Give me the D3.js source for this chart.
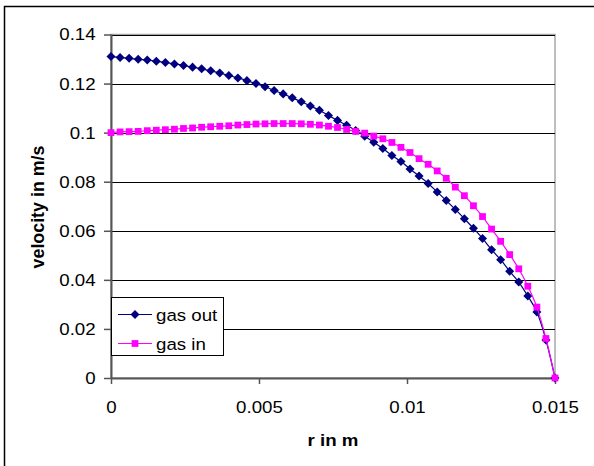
<html>
    <head>
        <meta charset="utf-8">
        <title>velocity profile</title>
        <script src="https://d3js.org/d3.v7.min.js"></script>
        <style>
            body { margin: 0; background: #fff; }
            text { font-family: "Liberation Sans", Arial, sans-serif; fill: #000; }
        </style>
    </head>
    <body>
        <div id="chart"></div>
        <script>
            // radius values: 50 nodes from 0 to 0.015 m
            const nPoints = 50;
            const radius = d3.range(nPoints).map(i => i * 0.015 / (nPoints - 1));

            // velocities
            const gasOut = [0.1310, 0.1306, 0.1303, 0.1299, 0.1296, 0.1291, 0.1286, 0.1280, 0.1274, 0.1267,
                            0.1260, 0.1252, 0.1243, 0.1233, 0.1223, 0.1212, 0.1200, 0.1187, 0.1172, 0.1158,
                            0.1142, 0.1126, 0.1109, 0.1091, 0.1070, 0.1050, 0.1030, 0.1009, 0.0985, 0.0961,
                            0.0935, 0.0907, 0.0882, 0.0852, 0.0823, 0.0793, 0.0758, 0.0723, 0.0687, 0.0649,
                            0.0610, 0.0569, 0.0523, 0.0482, 0.0435, 0.0391, 0.0334, 0.0269, 0.0155, 0.0];
            const gasIn  = [0.1000, 0.1003, 0.1004, 0.1005, 0.1008, 0.1010, 0.1012, 0.1014, 0.1017, 0.1019,
                            0.1022, 0.1024, 0.1026, 0.1028, 0.1031, 0.1033, 0.1035, 0.1036, 0.1037, 0.1037,
                            0.1037, 0.1036, 0.1034, 0.1031, 0.1026, 0.1021, 0.1013, 0.1005, 0.0998, 0.0986,
                            0.0975, 0.0960, 0.0940, 0.0919, 0.0894, 0.0871, 0.0844, 0.0814, 0.0778, 0.0743,
                            0.0702, 0.0658, 0.0607, 0.0557, 0.0503, 0.0445, 0.0374, 0.0289, 0.0161, 0.0];

            const xTicks = [0, 0.005, 0.01, 0.015];
            const xTickLabels = ["0", "0.005", "0.01", "0.015"];
            const yTicks = [0, 0.02, 0.04, 0.06, 0.08, 0.1, 0.12, 0.14];
            const yTickLabels = ["0", "0.02", "0.04", "0.06", "0.08", "0.1", "0.12", "0.14"];

            const seriesNames = ["gas out", "gas in"];
            const seriesColors = ["#000080", "#ff00ff"];

            const W = 594, H = 466;
            const plot = { left: 111, right: 555, top: 34.5, bottom: 378 };

            const svg = d3.select("#chart").append("svg")
                .attr("width", W)
                .attr("height", H);

            // outer chart border (cut off at right and bottom)
            svg.append("rect")
                .attr("x", 4.5).attr("y", 6.5)
                .attr("width", 800).attr("height", 800)
                .attr("fill", "none").attr("stroke", "#000").attr("stroke-width", 1.5);

            const x = d3.scaleLinear().domain([0, 0.015]).range([plot.left, plot.right]);
            const y = d3.scaleLinear().domain([0, 0.14]).range([plot.bottom, plot.top]);

            // plot area border
            svg.append("rect")
                .attr("x", plot.left).attr("y", plot.top)
                .attr("width", plot.right - plot.left).attr("height", plot.bottom - plot.top)
                .attr("fill", "none").attr("stroke", "#a8a8a8").attr("stroke-width", 1.5);

            // horizontal gridlines
            svg.append("g")
                .selectAll("line")
                .data(yTicks.filter(d => d > 0))
                .enter().append("line")
                .attr("x1", plot.left).attr("x2", plot.right)
                .attr("y1", d => Math.round(y(d)) + 0.5).attr("y2", d => Math.round(y(d)) + 0.5)
                .attr("stroke", "#000").attr("stroke-width", 1);

            // axes
            const yAxis = svg.append("g")
                .attr("transform", `translate(${plot.left},0)`)
                .call(d3.axisLeft(y).tickValues(yTicks).tickSize(7).tickPadding(7)
                    .tickFormat((d, i) => yTickLabels[i]));
            const xAxis = svg.append("g")
                .attr("transform", `translate(0,${plot.bottom})`)
                .call(d3.axisBottom(x).tickValues(xTicks).tickSize(6).tickPadding(17)
                    .tickFormat((d, i) => xTickLabels[i]));

            [yAxis, xAxis].forEach(ax => {
                ax.select(".domain").attr("stroke", "#555").attr("stroke-width", 2);
                ax.selectAll(".tick line").attr("stroke", "#555").attr("stroke-width", 1.5);
                ax.selectAll(".tick text")
                    .attr("font-size", 17)
                    .attr("font-family", "Liberation Sans, Arial, sans-serif")
                    .attr("fill", "#000")
                    .attr("transform", "scale(1.1,1)");
            });
            yAxis.select(".domain").attr("d", `M0.5,${plot.top}V${plot.bottom}`);
            xAxis.select(".domain").attr("d", `M${plot.left},0.5H${plot.right}`);

            // axis titles
            svg.append("text")
                .attr("transform", `translate(333,446) scale(1.1,1)`)
                .attr("text-anchor", "middle")
                .attr("font-size", 17).attr("font-weight", "bold")
                .text("r in m");
            svg.append("text")
                .attr("transform", `translate(44,207) rotate(-90) scale(1.05,1.1)`)
                .attr("text-anchor", "middle")
                .attr("font-size", 17).attr("font-weight", "bold")
                .text("velocity in m/s");

            // series
            const series = [gasOut, gasIn].map((vals, s) => ({
                name: seriesNames[s],
                color: seriesColors[s],
                points: vals.map((v, i) => ({ r: radius[i], v: v }))
            }));

            const line = d3.line()
                .x(d => x(d.r))
                .y(d => y(d.v))
                .curve(d3.curveCatmullRom.alpha(0.5));

            const diamond = d3.symbol().type(d3.symbolDiamond2).size(52);
            const square = d3.symbol().type(d3.symbolSquare).size(46);
            const markers = [diamond, square];

            series.forEach((s, si) => {
                svg.append("path")
                    .datum(s.points)
                    .attr("d", line)
                    .attr("fill", "none")
                    .attr("stroke", s.color)
                    .attr("stroke-width", 1.2);
                svg.append("g")
                    .selectAll("path")
                    .data(s.points)
                    .enter().append("path")
                    .attr("transform", d => `translate(${x(d.r)},${y(d.v)})`)
                    .attr("d", markers[si])
                    .attr("fill", s.color);
            });

            // legend
            const legend = svg.append("g");
            legend.append("rect")
                .attr("x", 111.5).attr("y", 297.5)
                .attr("width", 112).attr("height", 58)
                .attr("fill", "#fff").attr("stroke", "#000").attr("stroke-width", 1);
            series.forEach((s, si) => {
                const ly = 314.5 + si * 29;
                legend.append("line")
                    .attr("x1", 118).attr("x2", 152)
                    .attr("y1", ly).attr("y2", ly)
                    .attr("stroke", s.color).attr("stroke-width", 1.2);
                legend.append("path")
                    .attr("transform", `translate(135,${ly})`)
                    .attr("d", markers[si])
                    .attr("fill", s.color);
                legend.append("text")
                    .attr("transform", `translate(156,${ly + 6}) scale(1.1,1)`)
                    .attr("font-size", 17)
                    .text(s.name);
            });
        </script>
    </body>
</html>
